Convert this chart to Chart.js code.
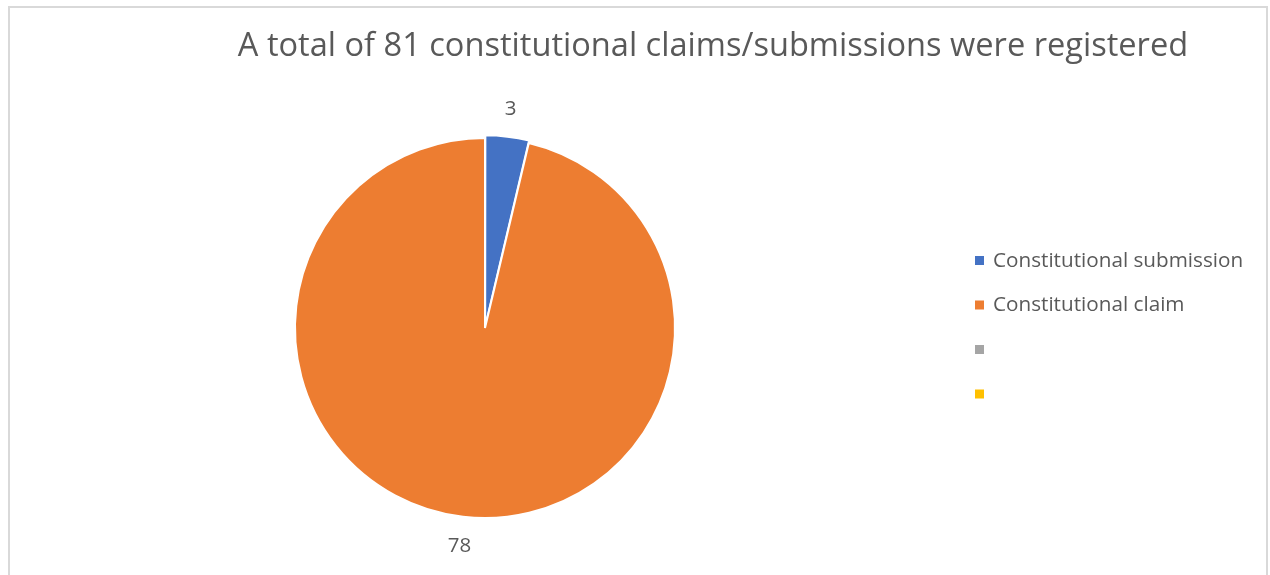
<!DOCTYPE html>
<html>
<head>
<meta charset="utf-8">
<script src="https://cdn.jsdelivr.net/npm/chart.js@4.4.1/dist/chart.umd.min.js"></script>
<style>
  html, body { margin: 0; padding: 0; background: #fff; }
  #wrap { position: relative; width: 1270px; height: 575px; overflow: hidden; }
  #frame { position: absolute; left: 8px; top: 6px; width: 1260px; height: 600px;
           border: 2px solid #d9d9d9; box-sizing: border-box; }
  canvas { position: absolute; left: 0; top: 0; }
</style>
</head>
<body>
<div id="wrap">
  <div id="frame"></div>
  <canvas id="chart" width="1270" height="575"></canvas>
</div>
<script>
const chartTitle = 'A total of 81 constitutional claims/submissions were registered';
const categories = ['Constitutional submission', 'Constitutional claim', '', ''];
const counts = [3, 78, 0, 0];
const colors = ['#4472C4', '#ED7D31', '#A5A5A5', '#FFC000'];

const FONT = '"Open Sans", "Noto Sans", sans-serif';
const TEXT = '#595959';

// title, slice labels and legend are drawn by hand to match the layout
const extras = {
  id: 'extras',
  afterDraw(chart) {
    const ctx = chart.ctx;
    ctx.save();
    ctx.fillStyle = TEXT;
    ctx.textAlign = 'center';
    ctx.textBaseline = 'middle';
    ctx.font = '32.6px ' + FONT;
    ctx.fillText(chartTitle, 713, 47);

    // value labels outside each slice
    ctx.font = '20.5px ' + FONT;
    const meta = chart.getDatasetMeta(0);
    meta.data.forEach((arc, i) => {
      if (!counts[i]) return;
      const p = arc.getProps(['x', 'y', 'startAngle', 'endAngle', 'outerRadius'], true);
      const mid = (p.startAngle + p.endAngle) / 2;
      const r = p.outerRadius + 30;
      ctx.fillText(String(counts[i]), p.x + Math.cos(mid) * r, p.y + Math.sin(mid) * r);
    });

    // legend
    ctx.textAlign = 'left';
    ctx.font = '20.7px ' + FONT;
    categories.forEach((name, i) => {
      const y = 260 + i * 44.5;
      ctx.fillStyle = colors[i];
      ctx.fillRect(975, y - 4, 9, 9);
      ctx.fillStyle = TEXT;
      ctx.fillText(name, 993, y + 1);
    });
    ctx.restore();
  }
};

new Chart(document.getElementById('chart'), {
  type: 'pie',
  data: {
    labels: categories,
    datasets: [{
      data: counts,
      backgroundColor: colors,
      borderColor: '#ffffff',
      borderWidth: 2,
      offset: [6, 0, 0, 0]
    }]
  },
  options: {
    responsive: false,
    animation: false,
    layout: { padding: { left: 291, top: 134, right: 591, bottom: 53 } },
    plugins: {
      legend: { display: false },
      title: { display: false },
      tooltip: { enabled: false }
    }
  },
  plugins: [extras]
});
</script>
</body>
</html>
